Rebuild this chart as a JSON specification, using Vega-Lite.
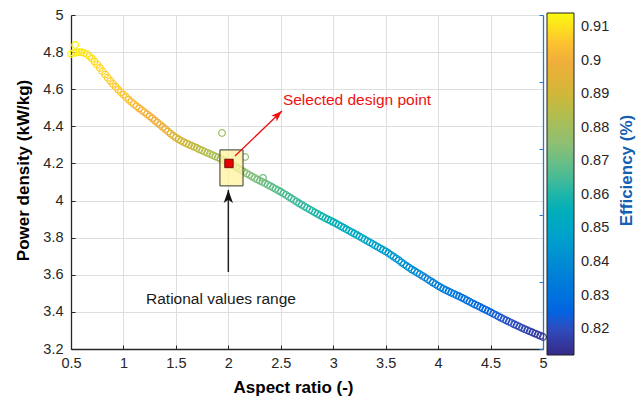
{
  "$schema": "https://vega.github.io/schema/vega-lite/v6.json",
  "width": 472,
  "height": 334,
  "autosize": "none",
  "padding": {"left": 71, "top": 15, "right": 100, "bottom": 47},
  "background": "white",
  "config": {
    "view": {"stroke": null},
    "font": "Liberation Sans",
    "axis": {"labelFont": "Liberation Sans", "titleFont": "Liberation Sans"},
    "legend": {"labelFont": "Liberation Sans"}
  },
  "datasets": {
    "curve": [
      {"ar":0.500,"pd":4.790,"eff":0.9130},{"ar":0.525,"pd":4.795,"eff":0.9126},{"ar":0.550,"pd":4.798,"eff":0.9122},{"ar":0.575,"pd":4.799,"eff":0.9118},
      {"ar":0.600,"pd":4.799,"eff":0.9114},{"ar":0.625,"pd":4.795,"eff":0.9110},{"ar":0.650,"pd":4.790,"eff":0.9106},{"ar":0.675,"pd":4.778,"eff":0.9102},
      {"ar":0.700,"pd":4.765,"eff":0.9098},{"ar":0.725,"pd":4.749,"eff":0.9094},{"ar":0.750,"pd":4.732,"eff":0.9090},{"ar":0.775,"pd":4.715,"eff":0.9086},
      {"ar":0.800,"pd":4.697,"eff":0.9082},{"ar":0.825,"pd":4.680,"eff":0.9078},{"ar":0.850,"pd":4.662,"eff":0.9074},{"ar":0.875,"pd":4.645,"eff":0.9070},
      {"ar":0.900,"pd":4.628,"eff":0.9066},{"ar":0.925,"pd":4.613,"eff":0.9064},{"ar":0.950,"pd":4.598,"eff":0.9061},{"ar":0.975,"pd":4.584,"eff":0.9058},
      {"ar":1.000,"pd":4.570,"eff":0.9055},{"ar":1.025,"pd":4.557,"eff":0.9051},{"ar":1.050,"pd":4.544,"eff":0.9047},{"ar":1.075,"pd":4.531,"eff":0.9043},
      {"ar":1.100,"pd":4.519,"eff":0.9039},{"ar":1.125,"pd":4.508,"eff":0.9035},{"ar":1.150,"pd":4.497,"eff":0.9031},{"ar":1.175,"pd":4.487,"eff":0.9027},
      {"ar":1.200,"pd":4.476,"eff":0.9023},{"ar":1.225,"pd":4.465,"eff":0.9019},{"ar":1.250,"pd":4.454,"eff":0.9015},{"ar":1.275,"pd":4.443,"eff":0.9010},
      {"ar":1.300,"pd":4.431,"eff":0.9005},{"ar":1.325,"pd":4.420,"eff":0.9000},{"ar":1.350,"pd":4.408,"eff":0.8995},{"ar":1.375,"pd":4.396,"eff":0.8990},
      {"ar":1.400,"pd":4.384,"eff":0.8985},{"ar":1.425,"pd":4.372,"eff":0.8970},{"ar":1.450,"pd":4.360,"eff":0.8955},{"ar":1.475,"pd":4.349,"eff":0.8940},
      {"ar":1.500,"pd":4.339,"eff":0.8920},{"ar":1.525,"pd":4.330,"eff":0.8910},{"ar":1.550,"pd":4.322,"eff":0.8902},{"ar":1.575,"pd":4.315,"eff":0.8895},
      {"ar":1.600,"pd":4.308,"eff":0.8886},{"ar":1.625,"pd":4.301,"eff":0.8880},{"ar":1.650,"pd":4.295,"eff":0.8874},{"ar":1.675,"pd":4.289,"eff":0.8868},
      {"ar":1.700,"pd":4.283,"eff":0.8862},{"ar":1.725,"pd":4.276,"eff":0.8856},{"ar":1.750,"pd":4.270,"eff":0.8850},{"ar":1.775,"pd":4.263,"eff":0.8844},
      {"ar":1.800,"pd":4.257,"eff":0.8838},{"ar":1.825,"pd":4.251,"eff":0.8832},{"ar":1.850,"pd":4.245,"eff":0.8826},{"ar":1.875,"pd":4.238,"eff":0.8820},
      {"ar":1.900,"pd":4.232,"eff":0.8814},{"ar":1.925,"pd":4.225,"eff":0.8808},{"ar":1.950,"pd":4.218,"eff":0.8802},{"ar":1.975,"pd":4.210,"eff":0.8796},
      {"ar":2.000,"pd":4.203,"eff":0.8790},{"ar":2.025,"pd":4.196,"eff":0.8784},{"ar":2.050,"pd":4.188,"eff":0.8778},{"ar":2.075,"pd":4.180,"eff":0.8772},
      {"ar":2.100,"pd":4.172,"eff":0.8766},{"ar":2.125,"pd":4.163,"eff":0.8760},{"ar":2.150,"pd":4.155,"eff":0.8754},{"ar":2.175,"pd":4.146,"eff":0.8748},
      {"ar":2.200,"pd":4.138,"eff":0.8742},{"ar":2.225,"pd":4.130,"eff":0.8736},{"ar":2.250,"pd":4.122,"eff":0.8730},{"ar":2.275,"pd":4.114,"eff":0.8724},
      {"ar":2.300,"pd":4.107,"eff":0.8718},{"ar":2.325,"pd":4.100,"eff":0.8712},{"ar":2.350,"pd":4.093,"eff":0.8706},{"ar":2.375,"pd":4.085,"eff":0.8700},
      {"ar":2.400,"pd":4.078,"eff":0.8694},{"ar":2.425,"pd":4.070,"eff":0.8688},{"ar":2.450,"pd":4.063,"eff":0.8682},{"ar":2.475,"pd":4.055,"eff":0.8676},
      {"ar":2.500,"pd":4.047,"eff":0.8670},{"ar":2.525,"pd":4.038,"eff":0.8665},{"ar":2.550,"pd":4.030,"eff":0.8660},{"ar":2.575,"pd":4.021,"eff":0.8655},
      {"ar":2.600,"pd":4.012,"eff":0.8650},{"ar":2.625,"pd":4.003,"eff":0.8645},{"ar":2.650,"pd":3.994,"eff":0.8640},{"ar":2.675,"pd":3.985,"eff":0.8635},
      {"ar":2.700,"pd":3.977,"eff":0.8630},{"ar":2.725,"pd":3.968,"eff":0.8625},{"ar":2.750,"pd":3.960,"eff":0.8620},{"ar":2.775,"pd":3.952,"eff":0.8615},
      {"ar":2.800,"pd":3.944,"eff":0.8610},{"ar":2.825,"pd":3.936,"eff":0.8605},{"ar":2.850,"pd":3.928,"eff":0.8600},{"ar":2.875,"pd":3.920,"eff":0.8595},
      {"ar":2.900,"pd":3.913,"eff":0.8590},{"ar":2.925,"pd":3.905,"eff":0.8585},{"ar":2.950,"pd":3.898,"eff":0.8580},{"ar":2.975,"pd":3.891,"eff":0.8575},
      {"ar":3.000,"pd":3.884,"eff":0.8570},{"ar":3.025,"pd":3.876,"eff":0.8565},{"ar":3.050,"pd":3.869,"eff":0.8559},{"ar":3.075,"pd":3.861,"eff":0.8554},
      {"ar":3.100,"pd":3.853,"eff":0.8548},{"ar":3.125,"pd":3.845,"eff":0.8543},{"ar":3.150,"pd":3.837,"eff":0.8537},{"ar":3.175,"pd":3.830,"eff":0.8532},
      {"ar":3.200,"pd":3.822,"eff":0.8526},{"ar":3.225,"pd":3.814,"eff":0.8521},{"ar":3.250,"pd":3.806,"eff":0.8515},{"ar":3.275,"pd":3.798,"eff":0.8510},
      {"ar":3.300,"pd":3.790,"eff":0.8504},{"ar":3.325,"pd":3.782,"eff":0.8499},{"ar":3.350,"pd":3.774,"eff":0.8493},{"ar":3.375,"pd":3.766,"eff":0.8488},
      {"ar":3.400,"pd":3.758,"eff":0.8482},{"ar":3.425,"pd":3.750,"eff":0.8477},{"ar":3.450,"pd":3.742,"eff":0.8471},{"ar":3.475,"pd":3.734,"eff":0.8466},
      {"ar":3.500,"pd":3.726,"eff":0.8460},{"ar":3.525,"pd":3.717,"eff":0.8455},{"ar":3.550,"pd":3.707,"eff":0.8449},{"ar":3.575,"pd":3.698,"eff":0.8444},
      {"ar":3.600,"pd":3.688,"eff":0.8438},{"ar":3.625,"pd":3.678,"eff":0.8433},{"ar":3.650,"pd":3.667,"eff":0.8427},{"ar":3.675,"pd":3.657,"eff":0.8422},
      {"ar":3.700,"pd":3.647,"eff":0.8416},{"ar":3.725,"pd":3.638,"eff":0.8411},{"ar":3.750,"pd":3.628,"eff":0.8405},{"ar":3.775,"pd":3.620,"eff":0.8400},
      {"ar":3.800,"pd":3.611,"eff":0.8394},{"ar":3.825,"pd":3.603,"eff":0.8389},{"ar":3.850,"pd":3.594,"eff":0.8383},{"ar":3.875,"pd":3.585,"eff":0.8378},
      {"ar":3.900,"pd":3.576,"eff":0.8372},{"ar":3.925,"pd":3.567,"eff":0.8367},{"ar":3.950,"pd":3.558,"eff":0.8361},{"ar":3.975,"pd":3.549,"eff":0.8356},
      {"ar":4.000,"pd":3.540,"eff":0.8350},{"ar":4.025,"pd":3.532,"eff":0.8345},{"ar":4.050,"pd":3.524,"eff":0.8340},{"ar":4.075,"pd":3.517,"eff":0.8335},
      {"ar":4.100,"pd":3.510,"eff":0.8330},{"ar":4.125,"pd":3.503,"eff":0.8325},{"ar":4.150,"pd":3.497,"eff":0.8320},{"ar":4.175,"pd":3.490,"eff":0.8315},
      {"ar":4.200,"pd":3.484,"eff":0.8310},{"ar":4.225,"pd":3.477,"eff":0.8305},{"ar":4.250,"pd":3.470,"eff":0.8300},{"ar":4.275,"pd":3.462,"eff":0.8295},
      {"ar":4.300,"pd":3.455,"eff":0.8290},{"ar":4.325,"pd":3.447,"eff":0.8285},{"ar":4.350,"pd":3.440,"eff":0.8280},{"ar":4.375,"pd":3.433,"eff":0.8275},
      {"ar":4.400,"pd":3.426,"eff":0.8270},{"ar":4.425,"pd":3.419,"eff":0.8265},{"ar":4.450,"pd":3.412,"eff":0.8260},{"ar":4.475,"pd":3.405,"eff":0.8255},
      {"ar":4.500,"pd":3.398,"eff":0.8250},{"ar":4.525,"pd":3.390,"eff":0.8245},{"ar":4.550,"pd":3.383,"eff":0.8240},{"ar":4.575,"pd":3.375,"eff":0.8235},
      {"ar":4.600,"pd":3.368,"eff":0.8230},{"ar":4.625,"pd":3.361,"eff":0.8225},{"ar":4.650,"pd":3.354,"eff":0.8220},{"ar":4.675,"pd":3.347,"eff":0.8215},
      {"ar":4.700,"pd":3.340,"eff":0.8210},{"ar":4.725,"pd":3.333,"eff":0.8205},{"ar":4.750,"pd":3.327,"eff":0.8200},{"ar":4.775,"pd":3.320,"eff":0.8195},
      {"ar":4.800,"pd":3.314,"eff":0.8190},{"ar":4.825,"pd":3.307,"eff":0.8185},{"ar":4.850,"pd":3.301,"eff":0.8180},{"ar":4.875,"pd":3.295,"eff":0.8175},
      {"ar":4.900,"pd":3.289,"eff":0.8170},{"ar":4.925,"pd":3.283,"eff":0.8165},{"ar":4.950,"pd":3.277,"eff":0.8160},{"ar":4.975,"pd":3.271,"eff":0.8155},
      {"ar":5.000,"pd":3.265,"eff":0.8150},
      {"ar":0.540,"pd":4.838,"eff":0.9125},{"ar":1.940,"pd":4.364,"eff":0.8800},{"ar":2.160,"pd":4.235,"eff":0.8760},{"ar":2.330,"pd":4.122,"eff":0.8720}
    ],
    "box": [{"ar": 1.92, "pd": 4.079, "ar2": 2.14, "pd2": 4.273}],
    "design": [{"ar": 2.006, "pd": 4.2}],
    "redArrow": [{"ar": 2.063, "pd": 4.24, "ar2": 2.511, "pd2": 4.483}],
    "blackArrow": [{"ar": 2.0, "pd": 3.615, "ar2": 2.0, "pd2": 4.057}],
    "redText": [{"ar": 2.52, "pd": 4.542, "label": "Selected design point"}],
    "blackText": [{"ar": 1.93, "pd": 3.47, "label": "Rational values range"}],
    "rightAxis": [{"v": 0}, {"v": 1}]
  },
  "layer": [
    {
      "encoding": {
        "x": {
          "field": "ar", "type": "quantitative",
          "scale": {"domain": [0.5, 5], "nice": false, "zero": false},
          "axis": {
            "values": [0.5, 1, 1.5, 2, 2.5, 3, 3.5, 4, 4.5, 5], "format": "~g", "labelFlush": false,
            "grid": true, "gridColor": "#dedede", "gridWidth": 1,
            "domainColor": "#262626", "domainWidth": 1.3,
            "tickColor": "#262626", "tickSize": -4, "tickWidth": 1,
            "labelFontSize": 14.5, "labelColor": "#262626", "labelPadding": 11,
            "title": "Aspect ratio (-)", "titleFontSize": 17, "titleFontWeight": "bold", "titleColor": "#000000",
            "titleX": 222, "titleY": 38, "titleAlign": "center", "titleBaseline": "middle"
          }
        },
        "y": {
          "field": "pd", "type": "quantitative",
          "scale": {"domain": [3.2, 5], "nice": false, "zero": false},
          "axis": {
            "values": [3.2, 3.4, 3.6, 3.8, 4, 4.2, 4.4, 4.6, 4.8, 5], "format": "~g", "labelFlush": false,
            "grid": true, "gridColor": "#dedede", "gridWidth": 1,
            "domainColor": "#262626", "domainWidth": 1.3,
            "tickColor": "#262626", "tickSize": -4, "tickWidth": 1,
            "labelFontSize": 14.5, "labelColor": "#262626", "labelPadding": 12,
            "title": "Power density (kW/kg)", "titleFontSize": 17, "titleFontWeight": "bold", "titleColor": "#000000",
            "titleAngle": 270, "titleX": -48, "titleY": 155, "titleAlign": "center", "titleBaseline": "middle"
          }
        }
      },
      "layer": [
        {
          "data": {"name": "curve"},
          "mark": {"type": "point", "filled": false, "shape": "circle", "size": 44, "strokeWidth": 1.3, "opacity": 1},
          "encoding": {
            "color": {
              "field": "eff", "type": "quantitative",
              "scale": {
                "domain": [0.8123, 0.9142],
                "range": ["#352a87", "#0363e1", "#1485d4", "#06a7c6", "#38b99e", "#92bf73", "#cdb83a", "#f6ad3c", "#f9fb0e"]
              },
              "legend": {
                "orient": "none", "legendX": 476, "legendY": -2, "padding": 0,
                "direction": "vertical", "gradientLength": 342, "gradientThickness": 27,
                "gradientStrokeColor": "#222222", "gradientStrokeWidth": 1,
                "values": [0.82, 0.83, 0.84, 0.85, 0.86, 0.87, 0.88, 0.89, 0.9, 0.91],
                "format": "~g", "labelFontSize": 14.5, "labelColor": "#262626", "labelOffset": 7,
                "labelOverlap": false, "title": null
              }
            }
          }
        },
        {
          "data": {"name": "box"},
          "mark": {"type": "rect", "fill": "#fff3a0", "fillOpacity": 0.78, "stroke": "#333333", "strokeWidth": 1},
          "encoding": {"x2": {"field": "ar2"}, "y2": {"field": "pd2"}}
        },
        {
          "data": {"name": "design"},
          "mark": {"type": "point", "shape": "square", "filled": true, "fill": "#e60000", "stroke": "#5a0000", "strokeWidth": 0.8, "size": 72, "opacity": 1}
        },
        {
          "data": {"name": "redArrow"},
          "mark": {"type": "rule", "color": "#f01010", "strokeWidth": 1.3},
          "encoding": {"x2": {"field": "ar2"}, "y2": {"field": "pd2"}}
        },
        {
          "data": {"name": "redArrow"},
          "mark": {"type": "point", "shape": "M0,0L-0.5,1.4L0,1.05L0.5,1.4Z", "filled": true, "fill": "#f01010", "strokeWidth": 0, "size": 246, "angle": 46, "opacity": 1},
          "encoding": {"x": {"field": "ar2", "type": "quantitative"}, "y": {"field": "pd2", "type": "quantitative"}}
        },
        {
          "data": {"name": "blackArrow"},
          "mark": {"type": "rule", "color": "#222222", "strokeWidth": 1.5},
          "encoding": {"x2": {"field": "ar2"}, "y2": {"field": "pd2"}}
        },
        {
          "data": {"name": "blackArrow"},
          "mark": {"type": "point", "shape": "M0,0L-0.5,1.4L0,1.05L0.5,1.4Z", "filled": true, "fill": "#111111", "strokeWidth": 0, "size": 346, "angle": 0, "opacity": 1},
          "encoding": {"x": {"field": "ar2", "type": "quantitative"}, "y": {"field": "pd2", "type": "quantitative"}}
        },
        {
          "data": {"name": "redText"},
          "mark": {"type": "text", "align": "left", "baseline": "middle", "fontSize": 15.5, "color": "#ee1111", "font": "Liberation Sans"},
          "encoding": {"text": {"field": "label"}}
        },
        {
          "data": {"name": "blackText"},
          "mark": {"type": "text", "align": "center", "baseline": "middle", "fontSize": 15.5, "color": "#1a1a1a", "font": "Liberation Sans"},
          "encoding": {"text": {"field": "label"}}
        }
      ]
    },
    {
      "data": {"name": "rightAxis"},
      "mark": {"type": "point", "opacity": 0},
      "encoding": {
        "y": {
          "field": "v", "type": "quantitative",
          "scale": {"domain": [0, 1], "nice": false, "zero": false},
          "axis": {
            "orient": "right", "values": [0, 0.2, 0.4, 0.6, 0.8, 1], "labels": false, "grid": false,
            "tickSize": -4, "tickWidth": 1, "domainColor": "#2a78c8", "tickColor": "#2a78c8", "domainWidth": 1.3,
            "title": "Efficiency (%)", "titleColor": "#1560b0", "titleFontSize": 17, "titleFontWeight": "bold",
            "titleAngle": 270, "titleX": 83, "titleY": 155, "titleAlign": "center", "titleBaseline": "middle"
          }
        }
      }
    }
  ],
  "resolve": {"scale": {"y": "independent"}}
}
